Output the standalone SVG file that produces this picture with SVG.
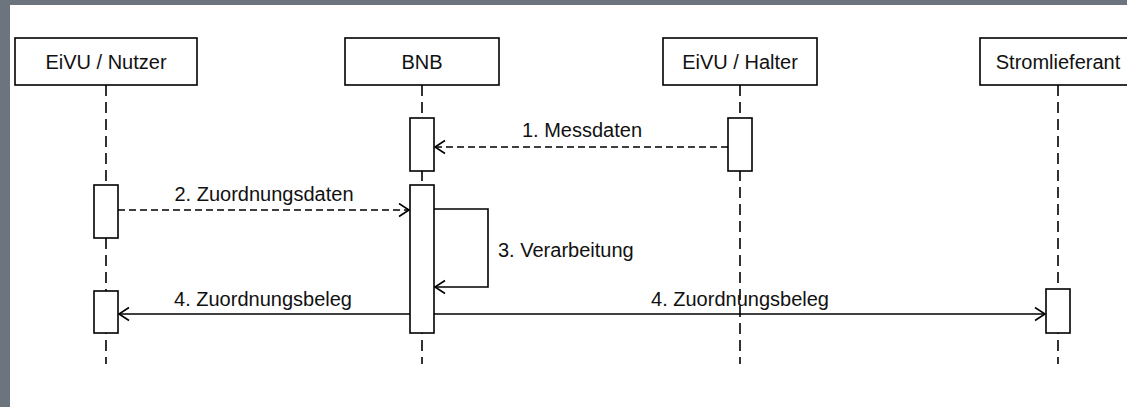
<svg xmlns="http://www.w3.org/2000/svg" width="1127" height="407" viewBox="0 0 1127 407">
  <style>
    .box { fill: #ffffff; stroke: #000000; stroke-width: 1.6; }
    .life { stroke: #000000; stroke-width: 1.6; stroke-dasharray: 11 6; fill: none; }
    .act { fill: #ffffff; stroke: #000000; stroke-width: 1.6; }
    .msg { stroke: #000000; stroke-width: 1.6; fill: none; }
    .dash { stroke-dasharray: 7 4; }
    text { font-family: "Liberation Sans", Arial, sans-serif; font-size: 20px; fill: #111111; }
    .c { text-anchor: middle; }
  </style>
  <defs>
    <marker id="open" markerUnits="userSpaceOnUse" markerWidth="14" markerHeight="16" refX="11" refY="7.5" orient="auto" viewBox="0 0 14 16">
      <path d="M1,1 L11,7.5 L1,14" fill="none" stroke="#000000" stroke-width="1.6"/>
    </marker>
  </defs>
  <rect x="0" y="0" width="1127" height="407" fill="#6c757d"/>
  <rect x="10" y="5" width="1117" height="402" fill="#ffffff"/>

  <g id="nutzer">
    <line class="life" x1="106" y1="85" x2="106" y2="364"/>
    <rect class="box" x="15" y="38" width="182" height="47"/>
    <text class="c" x="106" y="69">EiVU / Nutzer</text>
    <rect class="act" x="94" y="185" width="24" height="53"/>
    <rect class="act" x="94" y="291" width="24" height="42"/>
  </g>
  <g id="bnb">
    <line class="life" x1="422" y1="85" x2="422" y2="364"/>
    <rect class="box" x="345" y="38" width="154" height="47"/>
    <text class="c" x="422" y="69">BNB</text>
    <rect class="act" x="410" y="118" width="24" height="53"/>
    <rect class="act" x="410" y="185" width="24" height="148"/>
  </g>
  <g id="halter">
    <line class="life" x1="740" y1="85" x2="740" y2="364"/>
    <rect class="box" x="663" y="38" width="154" height="47"/>
    <text class="c" x="740" y="69">EiVU / Halter</text>
    <rect class="act" x="728" y="118" width="24" height="53"/>
  </g>
  <g id="stromlieferant">
    <line class="life" x1="1058" y1="85" x2="1058" y2="364"/>
    <rect class="box" x="980" y="38" width="156" height="47"/>
    <text class="c" x="1058" y="69">Stromlieferant</text>
    <rect class="act" x="1046" y="289" width="24" height="44"/>
  </g>

  <g id="connectors">
    <line class="msg dash" x1="728" y1="147" x2="435" y2="147" marker-end="url(#open)"/>
    <text class="c" x="582" y="137">1. Messdaten</text>
    <line class="msg dash" x1="118" y1="210" x2="409" y2="210" marker-end="url(#open)"/>
    <text class="c" x="264" y="201">2. Zuordnungsdaten</text>
    <polyline class="msg" points="434,209 488,209 488,287 435,287" marker-end="url(#open)"/>
    <text x="498" y="257">3. Verarbeitung</text>
    <line class="msg" x1="410" y1="314" x2="119" y2="314" marker-end="url(#open)"/>
    <text class="c" x="263" y="306">4. Zuordnungsbeleg</text>
    <line class="msg" x1="434" y1="314" x2="1045" y2="314" marker-end="url(#open)"/>
    <text class="c" x="740" y="306">4. Zuordnungsbeleg</text>
  </g>
</svg>
